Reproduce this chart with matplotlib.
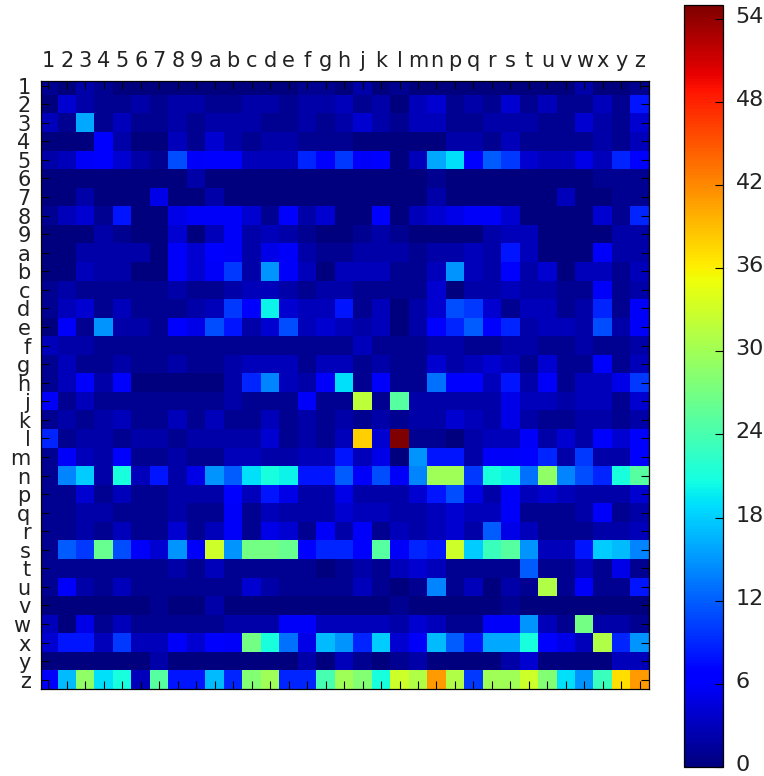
import numpy as np
import matplotlib
matplotlib.use("Agg")
import matplotlib.pyplot as plt
from matplotlib.transforms import ScaledTranslation

labels = list("123456789abcdefghjklmnpqrstuvwxyz")
colorbar_ticks = [0, 6, 12, 18, 24, 30, 36, 42, 48, 54]
value_max = 55

r_1 = [1,0,2,1,0,0,0,0,0,0,0,0,0,0,1,1,0,2,0,1,0,0,0,0,0,0,0,0,0,2,0,0,1]
r_2 = [0,4,2,1,1,2,1,2,2,1,1,2,2,1,2,2,3,1,2,0,3,4,1,2,1,4,1,3,1,1,3,1,8]
r_3 = [3,1,16,1,3,1,1,2,1,2,2,2,1,1,2,1,2,4,2,1,3,3,1,1,2,2,2,1,1,4,2,1,4]
r_4 = [0,0,0,7,2,0,0,3,1,4,2,1,2,2,1,1,1,0,0,0,0,0,2,2,1,3,1,1,1,1,2,1,3]
r_5 = [2,3,6,7,4,2,1,11,6,7,7,3,3,3,9,7,10,6,7,0,3,16,19,7,12,10,4,3,3,5,3,9,7]
r_6 = [0,0,0,0,0,0,0,0,2,0,0,0,0,0,0,0,0,0,0,0,0,1,0,0,0,0,0,0,0,0,1,1,1]
r_7 = [0,0,2,0,0,0,5,0,0,2,0,0,0,0,0,0,0,0,0,0,0,2,0,0,0,0,0,0,3,0,0,1,1]
r_8 = [1,3,4,1,8,0,0,5,6,6,6,4,1,7,2,4,0,0,7,0,3,4,5,6,6,4,0,0,0,0,4,1,9]
r_9 = [0,0,0,2,1,0,0,4,0,3,6,2,3,2,1,0,0,1,2,1,0,0,0,0,2,3,3,0,0,0,0,2,2]
r_a = [0,0,2,2,2,2,0,6,4,7,6,2,5,6,2,1,1,2,2,2,1,2,2,3,2,8,3,0,0,0,6,2,2]
r_b = [0,0,3,2,2,0,0,6,4,6,10,2,15,6,3,0,3,3,3,1,1,3,15,3,2,7,2,4,0,3,3,1,3]
r_c = [1,2,1,1,1,1,1,2,1,1,2,3,3,2,1,2,2,1,1,1,1,4,0,2,2,3,2,2,1,1,6,1,2]
r_d = [1,3,4,1,3,1,1,1,2,3,10,7,20,4,3,3,8,1,3,0,2,4,11,10,4,1,3,3,1,2,9,1,6]
r_e = [0,6,1,15,2,2,1,7,5,11,8,2,4,11,3,4,3,2,3,0,2,7,9,12,7,9,2,3,3,2,11,2,6]
r_f = [3,2,2,1,1,1,1,1,1,1,1,1,1,1,1,1,1,3,1,1,1,2,2,1,1,2,2,1,1,2,1,1,2]
r_g = [1,3,1,1,2,1,1,2,1,1,2,3,3,3,1,3,3,1,2,1,1,4,2,3,4,3,1,4,1,1,7,1,3]
r_h = [1,3,7,2,7,0,0,0,0,0,2,9,14,3,2,6,19,1,6,1,1,13,7,7,3,8,2,6,1,3,3,5,10]
r_j = [6,1,3,1,1,1,1,1,1,1,2,1,1,1,6,1,1,32,1,25,2,2,2,2,2,5,3,3,2,3,3,1,4]
r_k = [1,2,1,2,3,1,1,3,1,3,1,1,3,1,2,1,2,1,2,1,2,2,4,3,2,5,2,1,1,2,2,1,2]
r_l = [9,1,2,2,1,2,2,1,2,2,2,2,4,1,2,1,3,38,4,55,1,1,0,2,3,3,6,2,4,2,7,4,7]
r_m = [1,6,3,2,7,1,1,2,1,1,3,3,2,2,3,3,8,3,5,0,15,8,8,2,6,6,7,9,2,10,2,2,7]
r_n = [1,14,18,2,21,3,8,2,5,15,12,19,21,20,8,8,12,6,11,6,14,30,30,10,21,20,13,29,14,11,9,21,25]
r_p = [1,1,4,1,3,1,1,2,2,2,7,3,8,5,2,2,5,2,2,2,4,8,11,5,2,6,3,4,3,2,2,2,4]
r_q = [1,1,2,2,1,1,1,2,1,1,6,1,3,2,2,2,4,3,3,2,2,3,4,3,3,6,1,1,1,2,6,1,2]
r_r = [1,1,2,1,3,1,1,4,1,3,6,1,5,4,1,6,2,6,1,3,2,3,4,2,12,5,3,1,1,1,2,2,3]
r_s = [1,12,10,26,11,6,4,15,6,33,15,27,27,26,7,9,9,7,25,6,9,8,33,18,23,25,15,3,3,8,18,17,14]
r_t = [1,1,1,1,1,1,1,2,1,3,1,1,1,1,1,0,1,2,1,3,4,3,1,1,1,1,12,1,1,3,1,5,1]
r_u = [1,6,2,1,3,1,1,1,1,1,1,4,2,1,1,1,1,3,1,0,1,14,1,3,0,2,1,31,1,6,1,1,8]
r_v = [0,0,0,0,0,0,1,0,0,2,0,0,0,0,0,0,0,0,0,1,0,0,0,0,0,1,0,0,0,0,0,0,0]
r_w = [3,0,5,1,3,1,1,1,1,1,2,2,2,6,6,3,3,3,3,2,4,3,1,1,6,6,15,3,1,27,2,2,1]
r_x = [4,8,8,3,10,3,3,6,4,7,6,27,21,13,5,17,15,9,18,4,6,17,12,8,16,16,21,7,5,3,31,9,15]
r_y = [0,0,0,0,0,0,2,0,0,0,0,0,0,0,2,0,3,1,0,1,2,0,0,0,0,2,4,0,0,0,0,3,3]
r_z = [6,17,29,19,21,3,25,8,8,17,9,28,30,9,9,24,30,28,21,33,31,41,31,10,30,30,33,28,19,15,23,37,41]

rows = [r_1, r_2, r_3, r_4, r_5, r_6, r_7, r_8, r_9, r_a, r_b, r_c, r_d, r_e, r_f,
        r_g, r_h, r_j, r_k, r_l, r_m, r_n, r_p, r_q, r_r, r_s, r_t, r_u, r_v, r_w,
        r_x, r_y, r_z]
matrix = np.array(rows, dtype=float)

W, H = 764, 776
fig = plt.figure(figsize=(W / 100, H / 100), dpi=100, facecolor="white")
ax = fig.add_axes([41 / W, 1 - 689 / H, 608 / W, 608 / H])
im = ax.imshow(matrix, cmap="jet", vmin=0, vmax=value_max,
               interpolation="nearest", aspect="auto")
ax.set_xlim(-0.4, 32.5)
ax.set_ylim(32.5, -0.25)

ax.set_xticks(range(len(labels)))
ax.set_xticklabels(labels)
ax.set_yticks(range(len(labels)))
ax.set_yticklabels(labels)
ax.tick_params(axis="x", which="major", direction="in", top=True, bottom=True,
               labeltop=True, labelbottom=False, length=5.5, width=0.8,
               labelsize=15, pad=7, labelcolor="#222222")
ax.tick_params(axis="y", which="major", direction="in", left=True, right=True,
               length=5.5, width=0.8, labelsize=15, pad=7.5, labelcolor="#222222")
for spine in ax.spines.values():
    spine.set_linewidth(0.9)

cax = fig.add_axes([684 / W, 1 - 767 / H, 39 / W, 762 / H])
cb = fig.colorbar(im, cax=cax)
cb.set_ticks(colorbar_ticks)
cb.ax.tick_params(direction="in", length=6, width=0.8, labelsize=16, pad=9,
                  labelcolor="#222222")
cb.outline.set_linewidth(0.9)
up = ScaledTranslation(0, 4 / 100, fig.dpi_scale_trans)
for lab in cb.ax.get_yticklabels():
    lab.set_transform(lab.get_transform() + up)

fig.savefig("out.png", dpi=100)
